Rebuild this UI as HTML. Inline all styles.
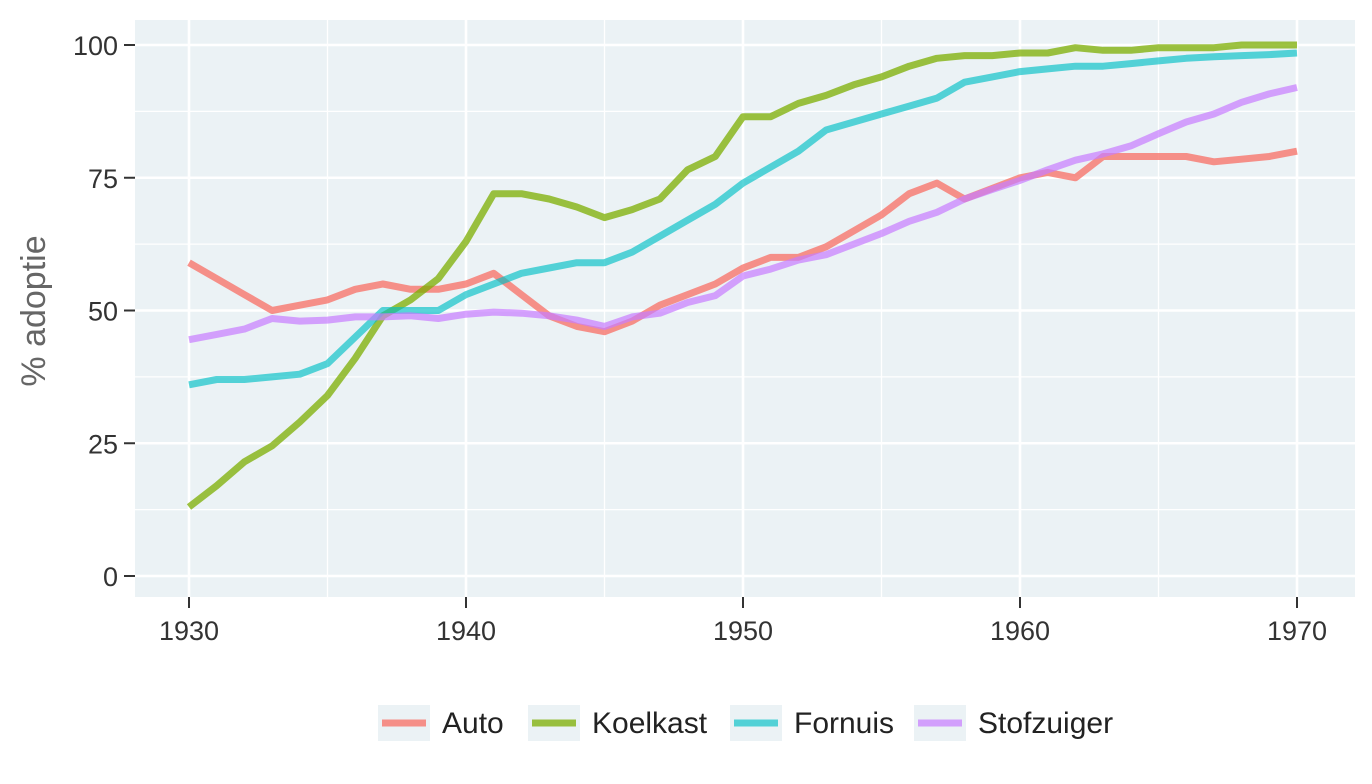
<!DOCTYPE html>
<html><head><meta charset="utf-8"><style>
html,body{margin:0;padding:0;background:#fff;}
svg{display:block;font-family:"Liberation Sans",sans-serif;}
</style></head><body>
<svg id="s" width="1372" height="784" xmlns="http://www.w3.org/2000/svg">
<rect x="135" y="20" width="1220" height="577" fill="#EBF2F5"/>
<g id="grid"></g>
<g id="lines" fill="none" stroke-width="7" stroke-linejoin="round" stroke-linecap="butt"></g>
<g font-size="27" fill="#333" id="ticks"></g>
<text transform="translate(45,311) rotate(-90)" text-anchor="middle" font-size="34" fill="#666">% adoptie</text>
<g font-size="30" fill="#222">
<rect x="378" y="705" width="52" height="36" fill="#EBF2F5"/><line x1="382" x2="426" y1="723" y2="723" stroke="#F8766D" stroke-opacity="0.8" stroke-width="7"/><text x="442" y="733">Auto</text>
<rect x="528" y="705" width="52" height="36" fill="#EBF2F5"/><line x1="532" x2="576" y1="723" y2="723" stroke="#7CAE00" stroke-opacity="0.75" stroke-width="7"/><text x="592" y="733">Koelkast</text>
<rect x="730" y="705" width="52" height="36" fill="#EBF2F5"/><line x1="734" x2="778" y1="723" y2="723" stroke="#00BFC4" stroke-opacity="0.65" stroke-width="7"/><text x="794" y="733">Fornuis</text>
<rect x="914" y="705" width="52" height="36" fill="#EBF2F5"/><line x1="918" x2="962" y1="723" y2="723" stroke="#C77CFF" stroke-opacity="0.7" stroke-width="7"/><text x="978" y="733">Stofzuiger</text>
</g>
</svg>
<script>
var X=function(y){return 189+(y-1930)*27.7},Y=function(v){return 576-v*5.31};
var ns="http://www.w3.org/2000/svg",g=document.getElementById("grid"),t=document.getElementById("ticks"),l=document.getElementById("lines");
function el(p,n,a){var e=document.createElementNS(ns,n);for(var k in a)e.setAttribute(k,a[k]);p.appendChild(e);return e;}
for(var v=12.5;v<=100;v+=25)el(g,"line",{x1:135,x2:1355,y1:Y(v),y2:Y(v),stroke:"#fff","stroke-width":1.3});
for(var y=1935;y<=1965;y+=10)el(g,"line",{x1:X(y),x2:X(y),y1:20,y2:597,stroke:"#fff","stroke-width":1.3});
for(var v=0;v<=100;v+=25){el(g,"line",{x1:135,x2:1355,y1:Y(v),y2:Y(v),stroke:"#fff","stroke-width":2.6});
el(t,"line",{x1:124,x2:135,y1:Y(v),y2:Y(v),stroke:"#333","stroke-width":2});
var e=el(t,"text",{x:118,y:Y(v)+10,"text-anchor":"end"});e.textContent=v;}
for(var y=1930;y<=1970;y+=10){el(g,"line",{x1:X(y),x2:X(y),y1:20,y2:597,stroke:"#fff","stroke-width":2.6});
el(t,"line",{x1:X(y),x2:X(y),y1:597,y2:608,stroke:"#333","stroke-width":2});
var e=el(t,"text",{x:X(y),y:640,"text-anchor":"middle"});e.textContent=y;}
var D={
"#F8766D|0.8":[59,56,53,50,51,52,54,55,54,54,55,57,53,49,47,46,48,51,53,55,58,60,60,62,65,68,72,74,71,73,75,76,75,79,79,79,79,78,78.5,79,80],
"#7CAE00|0.75":[13,17,21.5,24.5,29,34,41,49,52,56,63,72,72,71,69.5,67.5,69,71,76.5,79,86.5,86.5,89,90.5,92.5,94,96,97.5,98,98,98.5,98.5,99.5,99,99,99.5,99.5,99.5,100,100,100],
"#00BFC4|0.65":[36,37,37,37.5,38,40,45,50,50,50,53,55,57,58,59,59,61,64,67,70,74,77,80,84,85.5,87,88.5,90,93,94,95,95.5,96,96,96.5,97,97.5,97.8,98,98.2,98.5],
"#C77CFF|0.7":[44.5,45.5,46.5,48.5,48,48.2,48.8,48.8,49,48.5,49.3,49.7,49.5,49,48.2,47,48.8,49.5,51.5,52.8,56.5,57.8,59.5,60.5,62.5,64.5,66.8,68.5,71,72.8,74.5,76.5,78.3,79.5,81,83.3,85.5,87,89.2,90.8,92]};
for(var k in D){var p=k.split("|"),pts=D[k].map(function(v,i){return X(1930+i).toFixed(1)+","+Y(v).toFixed(1)}).join(" ");
el(l,"polyline",{points:pts,stroke:p[0],"stroke-opacity":p[1]});}
</script>
</body></html>
